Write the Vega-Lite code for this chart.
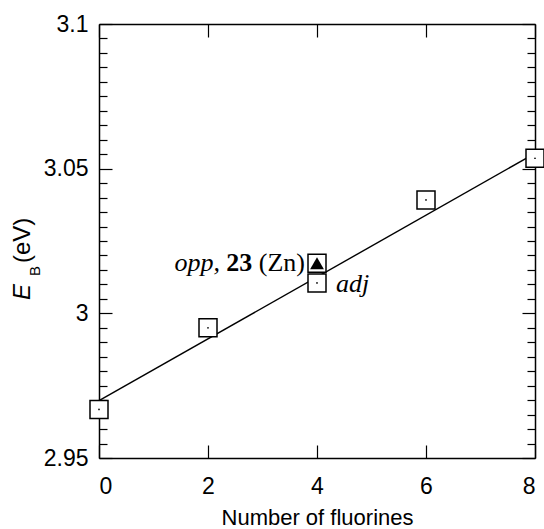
{
  "$schema": "https://vega.github.io/schema/vega-lite/v6.json",
  "width": 436,
  "height": 434,
  "autosize": {"type": "none"},
  "padding": {"left": 99, "top": 24, "right": 9, "bottom": 71},
  "background": "white",
  "config": {
    "view": {"stroke": null},
    "axis": {
      "grid": false,
      "ticks": true,
      "domainColor": "black",
      "domainWidth": 1.5,
      "tickColor": "black",
      "tickWidth": 1.2,
      "labelColor": "black",
      "labelFont": "Liberation Sans",
      "labelFontSize": 23,
      "titleFont": "Liberation Sans",
      "titleFontSize": 22,
      "titleColor": "black",
      "titleFontWeight": "normal"
    }
  },
  "datasets": {
    "points": [
      {"n": 0, "eb": 2.9668, "type": "plain"},
      {"n": 2, "eb": 2.995, "type": "plain"},
      {"n": 4, "eb": 3.0173, "type": "opp"},
      {"n": 4, "eb": 3.0105, "type": "adj"},
      {"n": 6, "eb": 3.0392, "type": "plain"},
      {"n": 8, "eb": 3.0536, "type": "plain"}
    ],
    "fit": [
      {"n": 0, "eb": 2.9698},
      {"n": 8, "eb": 3.0553}
    ],
    "ytitle": [
      {"n": -1.266, "eb": 3.0046}
    ]
  },
  "layer": [
    {
      "data": {"name": "fit"},
      "mark": {"type": "line", "color": "black", "strokeWidth": 1.4},
      "encoding": {
        "x": {"field": "n", "type": "quantitative", "scale": {"domain": [0, 8], "nice": false, "zero": false},
          "axis": {"orient": "top", "values": [0, 2, 4, 6, 8], "labels": false, "ticks": true, "tickSize": -13, "title": null}},
        "y": {"field": "eb", "type": "quantitative", "scale": {"domain": [2.95, 3.1], "nice": false, "zero": false},
          "axis": {"orient": "right", "labels": false, "title": null, "ticks": true,
            "values": [2.95, 2.955, 2.96, 2.965, 2.97, 2.975, 2.98, 2.985, 2.99, 2.995, 3, 3.005, 3.01, 3.015, 3.02, 3.025, 3.03, 3.035, 3.04, 3.045, 3.05, 3.055, 3.06, 3.065, 3.07, 3.075, 3.08, 3.085, 3.09, 3.095, 3.1],
            "tickSize": {"condition": {"test": "abs(datum.value*20 - round(datum.value*20)) < 0.01", "value": -13}, "value": -8}}}
      }
    },
    {
      "data": {"name": "points"},
      "mark": {"type": "point", "shape": "square", "size": 324, "filled": true, "fill": "white", "stroke": "black", "strokeWidth": 1.5, "opacity": 1},
      "encoding": {
        "x": {"field": "n", "type": "quantitative", "scale": {"domain": [0, 8], "nice": false, "zero": false},
          "axis": {"orient": "bottom", "values": [0, 2, 4, 6, 8], "ticks": true, "tickSize": -13, "labelPadding": 30, "title": "Number of fluorines", "titleY": 66, "titleBaseline": "alphabetic"}},
        "y": {"field": "eb", "type": "quantitative", "scale": {"domain": [2.95, 3.1], "nice": false, "zero": false},
          "axis": {"orient": "left", "title": null, "labelPadding": 24, "ticks": true,
            "values": [2.95, 2.955, 2.96, 2.965, 2.97, 2.975, 2.98, 2.985, 2.99, 2.995, 3, 3.005, 3.01, 3.015, 3.02, 3.025, 3.03, 3.035, 3.04, 3.045, 3.05, 3.055, 3.06, 3.065, 3.07, 3.075, 3.08, 3.085, 3.09, 3.095, 3.1],
            "labelExpr": "abs(datum.value*20 - round(datum.value*20)) < 0.01 ? format(datum.value, '~g') : ''",
            "tickSize": {"condition": {"test": "abs(datum.value*20 - round(datum.value*20)) < 0.01", "value": -13}, "value": -8}}}
      }
    },
    {
      "data": {"name": "points"},
      "transform": [{"filter": "datum.type != 'opp'"}],
      "mark": {"type": "point", "shape": "circle", "size": 3, "filled": true, "color": "black", "opacity": 1},
      "encoding": {
        "x": {"field": "n", "type": "quantitative", "scale": {"domain": [0, 8], "nice": false, "zero": false}, "axis": null},
        "y": {"field": "eb", "type": "quantitative", "scale": {"domain": [2.95, 3.1], "nice": false, "zero": false}, "axis": null}
      }
    },
    {
      "data": {"name": "points"},
      "transform": [{"filter": "datum.type == 'opp'"}],
      "mark": {"type": "point", "shape": "triangle-up", "size": 190, "filled": true, "color": "black", "opacity": 1},
      "encoding": {
        "x": {"field": "n", "type": "quantitative", "scale": {"domain": [0, 8], "nice": false, "zero": false}, "axis": null},
        "y": {"field": "eb", "type": "quantitative", "scale": {"domain": [2.95, 3.1], "nice": false, "zero": false}, "axis": null}
      }
    },
    {
      "data": {"name": "points"},
      "transform": [{"filter": "datum.type == 'opp'"}],
      "mark": {"type": "text", "text": "opp,", "font": "Liberation Serif", "fontSize": 26, "fontStyle": "italic", "align": "right", "baseline": "alphabetic", "dx": -97, "dy": 8, "color": "black"},
      "encoding": {
        "x": {"field": "n", "type": "quantitative", "scale": {"domain": [0, 8], "nice": false, "zero": false}, "axis": null},
        "y": {"field": "eb", "type": "quantitative", "scale": {"domain": [2.95, 3.1], "nice": false, "zero": false}, "axis": null}
      }
    },
    {
      "data": {"name": "points"},
      "transform": [{"filter": "datum.type == 'opp'"}],
      "mark": {"type": "text", "text": "23", "font": "Liberation Serif", "fontSize": 26, "fontWeight": "bold", "align": "right", "baseline": "alphabetic", "dx": -64.7, "dy": 8, "color": "black"},
      "encoding": {
        "x": {"field": "n", "type": "quantitative", "scale": {"domain": [0, 8], "nice": false, "zero": false}, "axis": null},
        "y": {"field": "eb", "type": "quantitative", "scale": {"domain": [2.95, 3.1], "nice": false, "zero": false}, "axis": null}
      }
    },
    {
      "data": {"name": "points"},
      "transform": [{"filter": "datum.type == 'opp'"}],
      "mark": {"type": "text", "text": "(Zn)", "font": "Liberation Serif", "fontSize": 26, "align": "right", "baseline": "alphabetic", "dx": -12, "dy": 8, "color": "black"},
      "encoding": {
        "x": {"field": "n", "type": "quantitative", "scale": {"domain": [0, 8], "nice": false, "zero": false}, "axis": null},
        "y": {"field": "eb", "type": "quantitative", "scale": {"domain": [2.95, 3.1], "nice": false, "zero": false}, "axis": null}
      }
    },
    {
      "data": {"name": "points"},
      "transform": [{"filter": "datum.type == 'adj'"}],
      "mark": {"type": "text", "text": "adj", "font": "Liberation Serif", "fontSize": 26, "fontStyle": "italic", "align": "left", "baseline": "alphabetic", "dx": 19, "dy": 9, "color": "black"},
      "encoding": {
        "x": {"field": "n", "type": "quantitative", "scale": {"domain": [0, 8], "nice": false, "zero": false}, "axis": null},
        "y": {"field": "eb", "type": "quantitative", "scale": {"domain": [2.95, 3.1], "nice": false, "zero": false}, "axis": null}
      }
    },
    {
      "data": {"name": "ytitle"},
      "mark": {"type": "text", "text": "E", "font": "Liberation Sans", "fontSize": 24, "fontStyle": "italic", "angle": 270, "align": "left", "baseline": "alphabetic", "color": "black"},
      "encoding": {
        "x": {"field": "n", "type": "quantitative", "scale": {"domain": [0, 8], "nice": false, "zero": false}, "axis": null},
        "y": {"field": "eb", "type": "quantitative", "scale": {"domain": [2.95, 3.1], "nice": false, "zero": false}, "axis": null}
      }
    },
    {
      "data": {"name": "ytitle"},
      "mark": {"type": "text", "text": "B", "font": "Liberation Sans", "fontSize": 15, "angle": 270, "align": "left", "baseline": "alphabetic", "dx": 24, "dy": 10, "color": "black"},
      "encoding": {
        "x": {"field": "n", "type": "quantitative", "scale": {"domain": [0, 8], "nice": false, "zero": false}, "axis": null},
        "y": {"field": "eb", "type": "quantitative", "scale": {"domain": [2.95, 3.1], "nice": false, "zero": false}, "axis": null}
      }
    },
    {
      "data": {"name": "ytitle"},
      "mark": {"type": "text", "text": "(eV)", "font": "Liberation Sans", "fontSize": 24, "angle": 270, "align": "left", "baseline": "alphabetic", "dx": 37, "color": "black"},
      "encoding": {
        "x": {"field": "n", "type": "quantitative", "scale": {"domain": [0, 8], "nice": false, "zero": false}, "axis": null},
        "y": {"field": "eb", "type": "quantitative", "scale": {"domain": [2.95, 3.1], "nice": false, "zero": false}, "axis": null}
      }
    }
  ],
  "resolve": {"axis": {"x": "independent", "y": "independent"}}
}
